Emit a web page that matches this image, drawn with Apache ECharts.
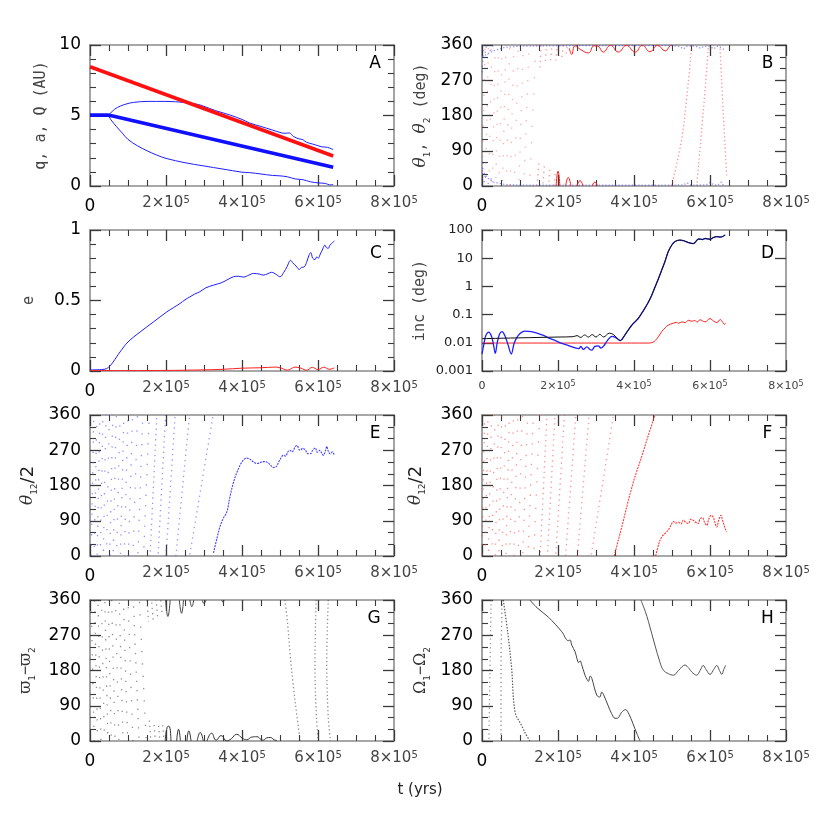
<!DOCTYPE html>
<html><head><meta charset="utf-8">
<script src="https://cdn.jsdelivr.net/npm/echarts/dist/echarts.min.js"></script>
<style>html,body{margin:0;padding:0;background:#fff}#c{width:830px;height:830px}</style>
</head><body><div id="c"></div>
<script>
// ---------------- DATA ----------------
const X_TICKS = [0, 2e5, 4e5, 6e5, 8e5];
const Y_TICKS_A = [0, 5, 10];
const Y_TICKS_C = [0, 0.5, 1];
const Y_TICKS_ANG = [0, 90, 180, 270, 360];
const Y_TICKS_D = [0.001, 0.01, 0.1, 1, 10, 100];
const PANEL_LETTERS = ['A','B','C','D','E','F','G','H'];

// Panel A: q, a, Q (AU)
const A_aRed = [[0,8.46],[6.4e5,2.13]];
const A_aBlue = [[0,5.03],[0.45e5,5.03],[0.6e5,4.96],[6.4e5,1.33]];
const A_Q = [[0,5.05],[0.45e5,5.05],[0.55e5,5.2],[0.65e5,5.45],[0.8e5,5.67],[1.0e5,5.85],[1.15e5,5.93],[1.5e5,6.0],[2.0e5,6.0],[2.5e5,5.92],[2.85e5,5.78],[3.0e5,5.65],[3.3e5,5.35],[3.7e5,5.02],[4.0e5,4.72],[4.2e5,4.47],[4.5e5,4.22],[4.8e5,3.97],[5.0e5,3.8],[5.1e5,3.74],[5.25e5,3.76],[5.35e5,3.52],[5.5e5,3.34],[5.6e5,3.29],[5.7e5,3.1],[5.85e5,2.98],[5.95e5,2.9],[6.1e5,2.78],[6.25e5,2.74],[6.4e5,2.58]];
const A_q = [[0,5.03],[0.45e5,5.03],[0.55e5,4.7],[0.7e5,4.2],[0.85e5,3.75],[1.0e5,3.3],[1.25e5,2.85],[1.5e5,2.5],[1.75e5,2.2],[2.0e5,1.96],[2.5e5,1.65],[3.0e5,1.42],[3.5e5,1.2],[4.0e5,0.98],[4.2e5,0.95],[4.5e5,0.85],[4.8e5,0.75],[5.0e5,0.72],[5.2e5,0.65],[5.4e5,0.5],[5.6e5,0.45],[5.8e5,0.3],[6.0e5,0.22],[6.2e5,0.18],[6.3e5,0.08],[6.4e5,0.1]];

// Panel C: e
const C_eBlue = [[0,0.008],[0.3e5,0.01],[0.44e5,0.017],[0.52e5,0.035],[0.61e5,0.064],[0.7e5,0.1],[0.79e5,0.135],[1.0e5,0.206],[1.32e5,0.277],[1.67e5,0.348],[2.02e5,0.419],[2.2e5,0.45],[2.37e5,0.479],[2.5e5,0.505],[2.63e5,0.526],[2.75e5,0.545],[2.89e5,0.562],[3.05e5,0.59],[3.25e5,0.609],[3.45e5,0.625],[3.6e5,0.645],[3.77e5,0.668],[3.9e5,0.672],[4.04e5,0.666],[4.18e5,0.68],[4.3e5,0.692],[4.45e5,0.688],[4.56e5,0.68],[4.68e5,0.69],[4.78e5,0.7],[4.9e5,0.685],[5.0e5,0.668],[5.1e5,0.7],[5.18e5,0.737],[5.28e5,0.785],[5.34e5,0.765],[5.39e5,0.754],[5.45e5,0.735],[5.51e5,0.72],[5.57e5,0.735],[5.63e5,0.737],[5.7e5,0.77],[5.76e5,0.82],[5.81e5,0.84],[5.86e5,0.8],[5.92e5,0.79],[5.97e5,0.81],[6.01e5,0.8],[6.06e5,0.83],[6.1e5,0.85],[6.14e5,0.875],[6.18e5,0.893],[6.22e5,0.875],[6.27e5,0.87],[6.31e5,0.89],[6.36e5,0.905],[6.43e5,0.922]];
const C_eRed = [[0,0.003],[1e5,0.003],[2e5,0.004],[3e5,0.008],[3.5e5,0.012],[4e5,0.02],[4.5e5,0.023],[4.9e5,0.028],[5.05e5,0.018],[5.2e5,0.006],[5.4e5,0.028],[5.55e5,0.02],[5.7e5,0.005],[5.85e5,0.026],[6.0e5,0.01],[6.15e5,0.027],[6.3e5,0.012],[6.43e5,0.022]];

// Panel D: inc (deg), log scale
const D_incBlack = [[0,0.014],[0.5e5,0.0145],[1e5,0.015],[1.5e5,0.0155],[2e5,0.016],[2.4e5,0.0165],[2.5e5,0.018],[2.6e5,0.0155],[2.7e5,0.019],[2.8e5,0.016],[2.9e5,0.0195],[3.0e5,0.016],[3.1e5,0.02],[3.2e5,0.016],[3.35e5,0.022],[3.45e5,0.02],[3.55e5,0.015],[3.64e5,0.012],[3.75e5,0.018],[3.94e5,0.042],[4.1e5,0.07],[4.2e5,0.11],[4.3e5,0.18],[4.38e5,0.28],[4.47e5,0.5],[4.56e5,1.0],[4.65e5,2.0],[4.73e5,3.8],[4.82e5,8],[4.9e5,17],[5.0e5,30],[5.08e5,39],[5.2e5,44],[5.3e5,42],[5.43e5,36],[5.56e5,33],[5.7e5,48],[5.8e5,46],[5.87e5,50],[6.0e5,47],[6.1e5,55],[6.18e5,58],[6.28e5,56],[6.4e5,66]];
const D_incBlue = [[0,0.004],[0.05e5,0.009],[0.1e5,0.018],[0.18e5,0.024],[0.25e5,0.017],[0.3e5,0.009],[0.35e5,0.0042],[0.4e5,0.01],[0.46e5,0.02],[0.53e5,0.025],[0.6e5,0.018],[0.68e5,0.009],[0.77e5,0.004],[0.85e5,0.01],[0.95e5,0.018],[1.05e5,0.024],[1.14e5,0.026],[1.3e5,0.025],[1.58e5,0.019],[1.8e5,0.014],[1.93e5,0.012],[2.1e5,0.0095],[2.28e5,0.008],[2.45e5,0.0066],[2.55e5,0.0062],[2.6e5,0.0075],[2.67e5,0.0058],[2.76e5,0.0072],[2.84e5,0.0058],[2.89e5,0.0055],[2.97e5,0.0075],[3.06e5,0.0078],[3.13e5,0.0065],[3.2e5,0.0077],[3.3e5,0.012],[3.42e5,0.017],[3.53e5,0.015],[3.64e5,0.012],[3.75e5,0.018],[3.94e5,0.042],[4.1e5,0.07],[4.2e5,0.11],[4.3e5,0.18],[4.38e5,0.28],[4.47e5,0.5],[4.56e5,1.0],[4.65e5,2.0],[4.73e5,3.8],[4.82e5,8],[4.9e5,17],[5.0e5,30],[5.08e5,39],[5.2e5,44],[5.3e5,42],[5.43e5,36],[5.56e5,33],[5.7e5,48],[5.8e5,46],[5.87e5,50],[6.0e5,47],[6.1e5,55],[6.18e5,58],[6.28e5,56],[6.4e5,66]];
const D_incRed = [[0,0.0098],[4.4e5,0.0098],[4.5e5,0.0105],[4.56e5,0.012],[4.65e5,0.017],[4.73e5,0.025],[4.82e5,0.034],[4.9e5,0.042],[5.04e5,0.05],[5.12e5,0.053],[5.17e5,0.049],[5.26e5,0.055],[5.35e5,0.052],[5.43e5,0.063],[5.52e5,0.058],[5.6e5,0.062],[5.66e5,0.054],[5.74e5,0.066],[5.8e5,0.06],[5.87e5,0.055],[6.0e5,0.072],[6.1e5,0.058],[6.18e5,0.052],[6.27e5,0.067],[6.33e5,0.055],[6.38e5,0.045],[6.41e5,0.05]];

// Panel B: theta1 (blue), theta2 (red)
const B_blueTop = [[0,330],[0.3e5,345],[0.6e5,354],[1e5,357],[2e5,358],[3e5,358.5],[4e5,358.5],[5e5,358.5],[5.2e5,356],[5.3e5,350],[5.4e5,357],[5.6e5,358],[5.75e5,352],[5.85e5,357],[6.0e5,356],[6.1e5,350],[6.2e5,357],[6.3e5,353],[6.4e5,346]];
const B_blueBottom = [[0,40],[0.15e5,20],[0.3e5,10],[0.6e5,4],[1e5,2.5],[5e5,2],[5.3e5,3],[5.4e5,8],[5.5e5,2],[5.9e5,3],[6.0e5,9],[6.1e5,3],[6.2e5,2],[6.3e5,10],[6.35e5,2]];
const B_blueEarly = [[[0,290],[0.04e5,360]],[[0,0],[0.03e5,60]],[[0.05e5,320],[0.12e5,360]],[[0.04e5,0],[0.1e5,35]],[[0.15e5,335],[0.3e5,360]],[[0.12e5,0],[0.25e5,20]]];
const B_redSweeps = [[0.0,0.08e5],[0.09e5,0.17e5],[0.18e5,0.26e5],[0.27e5,0.35e5],[0.36e5,0.44e5],[0.45e5,0.53e5],[0.54e5,0.63e5],[0.64e5,0.73e5],[0.74e5,0.84e5],[0.85e5,0.96e5],[0.97e5,1.09e5],[1.1e5,1.24e5],[1.25e5,1.42e5]];
const B_redEdges = [[[1.45e5,0],[1.5e5,60]],[[1.52e5,300],[1.56e5,360]],[[1.6e5,0],[1.64e5,50]],[[1.66e5,310],[1.7e5,360]],[[1.75e5,0],[1.79e5,45]],[[1.8e5,315],[1.84e5,360]],[[1.9e5,0],[1.93e5,40]],[[1.94e5,320],[1.98e5,360]],[[2.1e5,325],[2.14e5,360]],[[2.2e5,330],[2.25e5,360]]];
const B_redTop = [[2.3e5,352],[2.36e5,336],[2.45e5,358],[2.6e5,348],[2.8e5,340],[2.95e5,358],[3.05e5,357],[3.19e5,342],[3.38e5,359],[3.59e5,342],[3.8e5,359],[4.03e5,342],[4.22e5,359],[4.42e5,343],[4.62e5,359],[4.82e5,345],[4.95e5,358],[5.0e5,360]];
const B_redBottom = [[[1.95e5,0],[2.0e5,38],[2.05e5,0]],[[2.2e5,0],[2.27e5,22],[2.34e5,0]],[[2.5e5,0],[2.58e5,14],[2.66e5,0]],[[2.9e5,0],[2.97e5,10],[3.04e5,0]]];
const B_redLate = [[[4.99e5,0],[5.25e5,117],[5.39e5,228],[5.52e5,360]],[[5.65e5,0],[5.78e5,142],[5.87e5,245],[5.96e5,360]],[[6.26e5,360],[6.35e5,185],[6.44e5,23]]];

// Panel E
const E_sweeps = [[0.03e5,0.1e5],[0.11e5,0.18e5],[0.19e5,0.26e5],[0.27e5,0.34e5],[0.35e5,0.42e5],[0.43e5,0.51e5],[0.52e5,0.6e5],[0.61e5,0.69e5],[0.7e5,0.79e5],[0.8e5,0.89e5],[0.9e5,1.0e5],[1.01e5,1.12e5],[1.13e5,1.25e5],[1.26e5,1.39e5],[1.41e5,1.56e5],[1.58e5,1.76e5],[1.79e5,1.99e5],[2.0e5,2.24e5],[2.26e5,2.62e5],[2.62e5,3.24e5]];
const E_main = [[3.25e5,8],[3.34e5,45],[3.42e5,75],[3.5e5,95],[3.6e5,112],[3.68e5,150],[3.77e5,186],[3.86e5,212],[3.95e5,232],[4.04e5,245],[4.12e5,250],[4.2e5,248],[4.3e5,240],[4.4e5,236],[4.47e5,238],[4.55e5,241],[4.65e5,240],[4.75e5,232],[4.82e5,226],[4.9e5,228],[5.0e5,246],[5.09e5,257],[5.15e5,255],[5.2e5,265],[5.26e5,270],[5.32e5,266],[5.4e5,279],[5.45e5,282],[5.5e5,272],[5.53e5,270],[5.6e5,275],[5.67e5,270],[5.72e5,262],[5.8e5,261],[5.86e5,270],[5.93e5,276],[5.98e5,265],[6.05e5,270],[6.1e5,262],[6.14e5,257],[6.2e5,270],[6.23e5,280],[6.27e5,268],[6.32e5,261],[6.38e5,266],[6.43e5,257]];

// Panel F
const F_sweeps = [[0.0,0.07e5],[0.08e5,0.16e5],[0.17e5,0.25e5],[0.26e5,0.34e5],[0.35e5,0.43e5],[0.44e5,0.52e5],[0.53e5,0.62e5],[0.63e5,0.72e5],[0.73e5,0.83e5],[0.84e5,0.94e5],[0.95e5,1.06e5],[1.07e5,1.2e5],[1.21e5,1.35e5],[1.36e5,1.52e5],[1.53e5,1.71e5],[1.72e5,1.92e5],[1.94e5,2.17e5],[2.2e5,2.47e5],[2.51e5,2.82e5],[2.87e5,3.46e5]];
const F_main = [[3.48e5,0],[3.6e5,45],[3.72e5,90],[3.85e5,142],[4.0e5,195],[4.2e5,253],[4.35e5,300],[4.55e5,360]];
const F_lib = [[4.57e5,0],[4.65e5,30],[4.73e5,49],[4.82e5,58],[4.9e5,66],[4.97e5,78],[5.04e5,88],[5.1e5,84],[5.17e5,86],[5.24e5,82],[5.3e5,92],[5.36e5,86],[5.43e5,83],[5.5e5,94],[5.56e5,91],[5.62e5,86],[5.69e5,83],[5.74e5,95],[5.8e5,98],[5.86e5,85],[5.92e5,78],[5.96e5,92],[6.03e5,104],[6.09e5,98],[6.14e5,82],[6.18e5,74],[6.23e5,92],[6.29e5,104],[6.32e5,95],[6.36e5,82],[6.4e5,70],[6.44e5,61]];

// Panel G
const G_sweeps = [[0.03e5,0.11e5],[0.12e5,0.2e5],[0.21e5,0.29e5],[0.3e5,0.38e5],[0.39e5,0.47e5],[0.48e5,0.56e5],[0.57e5,0.66e5],[0.67e5,0.76e5],[0.77e5,0.87e5],[0.88e5,0.99e5],[1.0e5,1.13e5],[1.14e5,1.29e5],[1.3e5,1.48e5]];
const G_edges = [[[1.5e5,360],[1.54e5,305]],[[1.56e5,55],[1.6e5,0]],[[1.62e5,360],[1.66e5,310]],[[1.68e5,50],[1.72e5,0]],[[1.74e5,360],[1.78e5,315]],[[1.8e5,45],[1.84e5,0]],[[1.86e5,360],[1.9e5,320]],[[1.91e5,40],[1.95e5,0]]];
const G_top = [[[1.99e5,360],[2.05e5,318],[2.11e5,360]],[[2.35e5,360],[2.41e5,326],[2.46e5,360]],[[2.63e5,360],[2.68e5,343],[2.73e5,360]],[[2.95e5,360],[3.0e5,351],[3.05e5,360]],[[3.47e5,360],[3.5e5,354],[3.53e5,360]]];
const G_bottom = [[[1.98e5,0],[2.03e5,35],[2.08e5,38],[2.13e5,0]],[[2.28e5,0],[2.33e5,30],[2.38e5,0]],[[2.55e5,0],[2.6e5,26],[2.66e5,0]],[[2.82e5,0],[2.9e5,22],[2.98e5,0]],[[3.08e5,0],[3.2e5,20],[3.32e5,2],[3.45e5,14],[3.6e5,0],[3.72e5,6],[3.86e5,17],[4.0e5,8],[4.12e5,3],[4.26e5,10],[4.39e5,11],[4.5e5,4],[4.56e5,2],[4.65e5,8],[4.74e5,9],[4.85e5,3],[4.92e5,1]]];
const G_late = [[[5.13e5,360],[5.2e5,300],[5.26e5,228],[5.35e5,142],[5.45e5,60],[5.53e5,0]],[[5.95e5,360],[5.92e5,200],[5.96e5,60],[6.01e5,0]],[[6.27e5,360],[6.23e5,200],[6.27e5,60],[6.33e5,0]]];

// Panel H
const H_l1 = [[0.24e5,360],[0.21e5,180],[0.18e5,0]];
const H_l2 = [[0.53e5,360],[0.5e5,180],[0.5e5,0]];
const H_l3 = [[0.56e5,360],[0.68e5,275],[0.78e5,185],[0.87e5,74],[1.04e5,40],[1.15e5,18],[1.26e5,0]];
const H_l4 = [[1.26e5,360],[1.45e5,340],[1.75e5,316],[2.1e5,279],[2.27e5,256],[2.32e5,258],[2.36e5,245],[2.45e5,228],[2.5e5,210],[2.54e5,200],[2.58e5,205],[2.62e5,196],[2.71e5,168],[2.76e5,158],[2.8e5,152],[2.85e5,166],[2.89e5,160],[3.02e5,117],[3.1e5,112],[3.15e5,125],[3.2e5,118],[3.32e5,90],[3.41e5,70],[3.5e5,58],[3.56e5,58],[3.68e5,74],[3.78e5,80],[3.87e5,68],[3.97e5,45],[4.07e5,20],[4.16e5,0]];
const H_l5 = [[4.18e5,360],[4.3e5,330],[4.38e5,305],[4.55e5,245],[4.68e5,202],[4.77e5,181],[4.9e5,172],[5.04e5,168],[5.17e5,180],[5.34e5,194],[5.45e5,185],[5.52e5,176],[5.65e5,168],[5.74e5,180],[5.82e5,193],[5.9e5,182],[6.0e5,170],[6.1e5,183],[6.18e5,193],[6.25e5,180],[6.31e5,170],[6.36e5,182],[6.41e5,193]];

// ---------------- LAYOUT / STYLE ----------------
const GW = 304, GH = 141;
const LEFTS = [90, 482], TOPS = [45, 230, 415, 600];
const FR = '#8c8c8c', TK = '#3a3a3a';
const BLUE = '#1f1fff', RED = '#ff1f1f';
const BLUE_DOT = 'rgba(60,60,255,0.55)', RED_DOT = 'rgba(255,60,60,0.55)', GRAY_DOT = 'rgba(70,70,70,0.6)';
const BLUE_FAINT = 'rgba(70,70,255,0.6)', RED_FAINT = 'rgba(255,70,70,0.6)', GRAY_FAINT = 'rgba(70,70,70,0.6)';
const GAPS = [9, 12, 8, 11, 10, 13, 9.5];
const OFFS = [0, 4.3, 8.1, 1.7, 6.2, 2.9, 10.4, 5.5, 3.6, 7.4, 0.8];
const MID = [1.3, 4], DENSE = [1.3, 2];
function sparse(i) { return {dash: [1.3, GAPS[i % GAPS.length]], off: OFFS[i % OFFS.length]}; }

const grid = [];
for (let p = 0; p < 8; p++) grid.push({left: LEFTS[p % 2], top: TOPS[Math.floor(p / 2)], width: GW, height: GH, containLabel: false, outerBoundsMode: 'none'});

const nameRich = {
  m: {fontFamily: 'DejaVu Sans Mono', fontSize: 15, color: '#444'},
  g: {fontFamily: 'DejaVu Serif', fontStyle: 'italic', fontSize: 17, color: '#333', lineHeight: 22},
  g2: {fontFamily: 'DejaVu Serif', fontSize: 16, color: '#333', lineHeight: 22},
  n: {fontFamily: 'DejaVu Sans', fontSize: 18, color: '#222'},
  s: {fontFamily: 'DejaVu Sans', fontSize: 9, color: '#333', verticalAlign: 'bottom', lineHeight: 11}
};

function xAxes(p, small) {
  const base = {type: 'value', gridIndex: p, min: X_TICKS[0], max: X_TICKS[X_TICKS.length - 1], interval: X_TICKS[1] - X_TICKS[0],
    splitLine: {show: false},
    axisLine: {show: true, onZero: false, lineStyle: {color: FR, width: 1.6}},
    axisTick: {show: true, inside: true, length: 11, lineStyle: {color: TK, width: 1.3}},
    minorTick: {show: true, splitNumber: 4, length: 6, lineStyle: {color: TK, width: 1.1}}};
  const rich = small ? {
      z: {fontSize: 11, fontFamily: 'DejaVu Sans', color: '#333', lineHeight: 12},
      b: {fontSize: 11, fontFamily: 'DejaVu Sans', color: '#444', lineHeight: 12},
      s: {fontSize: 8, fontFamily: 'DejaVu Sans', color: '#444', verticalAlign: 'top', lineHeight: 8}
    } : {
      z: {fontSize: 17, fontFamily: 'DejaVu Sans', color: '#000', lineHeight: 20, padding: [4, 0, 0, 0]},
      b: {fontSize: 15, fontFamily: 'DejaVu Sans', color: '#444', lineHeight: 16},
      s: {fontSize: 10, fontFamily: 'DejaVu Sans', color: '#444', verticalAlign: 'top', lineHeight: 10}
    };
  const bottom = Object.assign({}, base, {position: 'bottom', axisLabel: {show: true, margin: 9, showMaxLabel: true, showMinLabel: true,
    formatter: v => v === 0 ? '{z|0}' : '{b|' + Math.round(v / 1e5) + '×10}{s|5}', rich: rich}});
  const top = Object.assign({}, base, {position: 'top', axisLabel: {show: false}});
  return [bottom, top];
}

function yAxes(p, ticks, minorSplit, name, nameGap, log) {
  const base = {gridIndex: p, min: ticks[0], max: ticks[ticks.length - 1], splitLine: {show: false},
    axisLine: {show: true, onZero: false, lineStyle: {color: FR, width: 1.6}},
    axisTick: {show: true, inside: true, length: 11, lineStyle: {color: TK, width: 1.3}}};
  if (log) {
    base.type = 'log'; base.logBase = 10; base.minorTick = {show: false};
  } else {
    base.type = 'value'; base.interval = ticks[1] - ticks[0];
    base.minorTick = {show: true, splitNumber: minorSplit, length: 6, lineStyle: {color: TK, width: 1.1}};
  }
  const lab = log
    ? {show: true, margin: 9, fontFamily: 'DejaVu Sans', fontSize: 13, color: '#222', formatter: v => String(+(+v).toPrecision(3))}
    : {show: true, margin: 9, fontFamily: 'DejaVu Sans', fontSize: 17, color: '#000', formatter: v => String(+(+v).toPrecision(3))};
  const left = Object.assign({}, base, {position: 'left', axisLabel: lab, name: name, nameLocation: 'middle', nameGap: nameGap, nameRotate: 90,
    nameTextStyle: {rich: nameRich}});
  const right = Object.assign({}, base, {position: 'right', axisLabel: {show: false}});
  return [left, right];
}

const xAxis = [], yAxis = [];
for (let p = 0; p < 8; p++) xAxis.push(...xAxes(p, p === 3));
yAxis.push(...yAxes(0, Y_TICKS_A, 5, '{m|q, a, Q (AU)}', 41));
yAxis.push(...yAxes(1, Y_TICKS_ANG, 3, '{g|θ}{s|1}{m|, }{g|θ}{s|2}{m| (deg)}', 50));
yAxis.push(...yAxes(2, Y_TICKS_C, 5, '{m|e}', 53));
yAxis.push(...yAxes(3, Y_TICKS_D, 0, '{m|inc (deg)}', 54, true));
yAxis.push(...yAxes(4, Y_TICKS_ANG, 3, '{g|θ}{s|12}{n|/2}', 51));
yAxis.push(...yAxes(5, Y_TICKS_ANG, 3, '{g|θ}{s|12}{n|/2}', 55));
yAxis.push(...yAxes(6, Y_TICKS_ANG, 3, '{g2|ϖ}{s|1}{m|−}{g2|ϖ}{s|2}', 53));
yAxis.push(...yAxes(7, Y_TICKS_ANG, 3, '{g2|Ω}{s|1}{m|−}{g2|Ω}{s|2}', 50));

// ---------------- SERIES ----------------
const series = [];
function line(p, data, color, width, dash, opts) {
  opts = opts || {};
  series.push({type: 'line', xAxisIndex: 2 * p, yAxisIndex: 2 * p, data: data, symbol: 'none', showSymbol: false,
    silent: true, clip: true, animation: false, z: opts.z || 2, smooth: opts.smooth || false,
    lineStyle: {color: color, width: width, type: dash || 'solid', dashOffset: opts.off || 0, cap: 'butt', join: 'round'}});
}
const up = sw => [[sw[0], 0], [sw[1], 360]];
const down = sw => [[sw[0], 360], [sw[1], 0]];
const SM = {smooth: 0.35};

// A
line(0, A_Q, BLUE, 1, null, SM);
line(0, A_q, BLUE, 1, null, SM);
line(0, A_aBlue, '#1010ff', 3.6, null, {z: 3});
line(0, A_aRed, '#ff1010', 3.6, null, {z: 3});

// B
line(1, B_blueTop, BLUE_DOT, 1.3, DENSE);
line(1, B_blueBottom, BLUE_DOT, 1.3, DENSE);
B_blueEarly.forEach((s, i) => line(1, s, BLUE_FAINT, 1.3, MID, {off: OFFS[i]}));
B_redSweeps.forEach((s, i) => { const d = sparse(i + 3); line(1, up(s), 'rgba(255,70,70,0.45)', 1.3, [1.3, d.dash[1] + 3], {off: d.off}); });
B_redEdges.forEach((s, i) => line(1, s, RED_DOT, 1.3, MID, {off: OFFS[i]}));
line(1, B_redTop, RED, 1, null, {z: 3, smooth: 0.5});
B_redBottom.forEach(s => line(1, s, RED, 1, null, {z: 3, smooth: 0.5}));
B_redLate.forEach(s => line(1, s, RED_DOT, 1.3, [1.3, 2.5], SM));

// C
line(2, C_eBlue, BLUE, 1, null, SM);
line(2, C_eRed, RED, 1, null, SM);

// D
line(3, D_incRed, RED, 1, null, SM);
line(3, D_incBlue, BLUE, 1.3, null, SM);
line(3, D_incBlack, '#111', 1, null, SM);

// E
E_sweeps.forEach((s, i) => {
  if (s[0] >= 1.5e5) line(4, up(s), BLUE_DOT, 1.3, MID, {off: OFFS[i % OFFS.length]});
  else { const d = sparse(i); line(4, up(s), BLUE_FAINT, 1.3, d.dash, {off: d.off}); }
});
line(4, E_main, 'rgba(30,30,255,0.85)', 1.1, [2, 1], SM);

// F
F_sweeps.forEach((s, i) => {
  if (s[0] >= 1.5e5) line(5, up(s), RED_DOT, 1.3, MID, {off: OFFS[i % OFFS.length]});
  else { const d = sparse(i + 2); line(5, up(s), RED_FAINT, 1.3, d.dash, {off: d.off}); }
});
line(5, F_main, 'rgba(255,30,30,0.85)', 1.1, [2, 1]);
line(5, F_lib, 'rgba(255,30,30,0.9)', 1.1, [2, 1], SM);

// G
G_sweeps.forEach((s, i) => { const d = sparse(i + 5); line(6, down(s), GRAY_FAINT, 1.3, d.dash, {off: d.off}); });
G_edges.forEach((s, i) => line(6, s, GRAY_DOT, 1.3, MID, {off: OFFS[i]}));
G_top.forEach(s => line(6, s, '#444', 1, null, {smooth: 0.5}));
G_bottom.forEach(s => line(6, s, '#333', 1, null, {smooth: 0.5}));
G_late.forEach(s => line(6, s, GRAY_DOT, 1.3, [1.3, 2.5], SM));

// H
line(7, H_l1, 'rgba(90,90,90,0.6)', 1.3, [1.3, 3], SM);
line(7, H_l2, 'rgba(90,90,90,0.7)', 1.3, [1.3, 3], SM);
line(7, H_l3, 'rgba(50,50,50,0.8)', 1.2, [1.5, 1.5], SM);
line(7, H_l4, '#444', 1, null, SM);
line(7, H_l5, '#555', 1, null, SM);

// ---------------- TEXT ----------------
const letterPos = [[375, 64], [767.5, 64], [376, 254], [767.5, 254], [375, 434], [767.5, 434], [374, 619], [767.5, 619]];
const graphic = PANEL_LETTERS.map((L, i) => ({type: 'text', x: letterPos[i][0], y: letterPos[i][1], silent: true,
  style: {text: L, font: '17px "DejaVu Sans"', fill: '#000', textAlign: 'center', textVerticalAlign: 'middle'}}));
graphic.push({type: 'text', x: 420, y: 790, silent: true,
  style: {text: 't (yrs)', font: '15px "DejaVu Sans"', fill: '#222', textAlign: 'center', textVerticalAlign: 'middle'}});

const chart = echarts.init(document.getElementById('c'), null, {renderer: 'canvas', width: 830, height: 830});
chart.setOption({animation: false, backgroundColor: '#fff', grid, xAxis, yAxis, series, graphic});
</script></body></html>
